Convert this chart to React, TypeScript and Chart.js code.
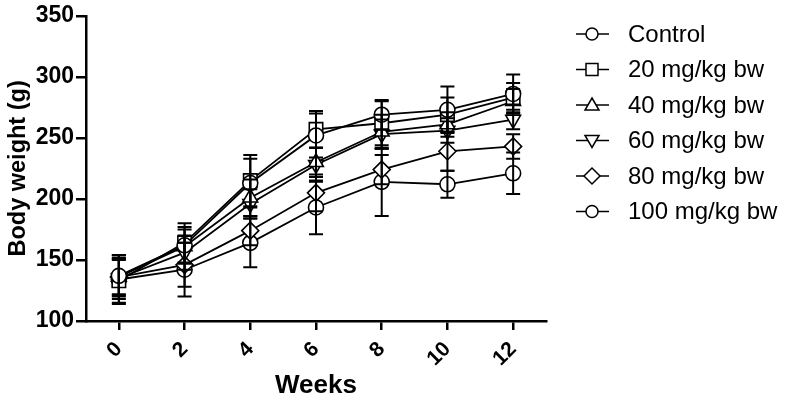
import React, { useEffect, useRef } from "react";
import { Chart, registerables } from "chart.js";

Chart.register(...registerables);

const weeks = [0, 2, 4, 6, 8, 10, 12];
const seriesNames = ["Control", "20 mg/kg bw", "40 mg/kg bw", "60 mg/kg bw", "80 mg/kg bw", "100 mg/kg bw"];

const control = [137, 162, 213, 252, 269, 273, 286];
const mg20 = [133, 164, 215, 257, 262, 269, 283];
const mg40 = [136, 161, 201, 230, 255, 261, 280];
const mg60 = [135, 156, 196, 228, 253, 256, 265];
const mg80 = [136, 146, 174, 205, 224, 239, 243];
const mg100 = [134, 142, 164, 193, 214, 212, 221];

const sdControl = [15, 15, 20, 18, 12, 19, 16];
const sdMg20 = [18, 16, 21, 15, 18, 14, 12];
const sdMg40 = [15, 14, 15, 12, 14, 10, 10];
const sdMg60 = [15, 14, 12, 14, 12, 10, 8];
const sdMg80 = [18, 18, 12, 15, 12, 16, 10];
const sdMg100 = [20, 22, 20, 22, 28, 11, 17];

const yTicks = [100, 150, 200, 250, 300, 350];

const seriesValues = [control, mg20, mg40, mg60, mg80, mg100];
const seriesSd = [sdControl, sdMg20, sdMg40, sdMg60, sdMg80, sdMg100];
const pointStyles = ["circle", "rect", "triangle", "triangle", "rectRot", "circle"];
const pointRotations = [0, 0, 0, 180, 0, 0];
const pointRadii = [7.5, 9.5, 8.5, 8.5, 8.5, 7.5];

const FONT = "'Liberation Sans', Arial, sans-serif";

const errorBarPlugin = {
  id: "errorBars",
  afterDatasetsDraw(chart: any) {
    const ctx = chart.ctx;
    const xs = chart.scales.x;
    const ys = chart.scales.y;
    ctx.save();
    ctx.strokeStyle = "#000";
    ctx.lineWidth = 2;
    seriesValues.forEach((vals, i) => {
      vals.forEach((v, j) => {
        const sd = seriesSd[i][j];
        const x = xs.getPixelForValue(weeks[j]);
        const yt = ys.getPixelForValue(v + sd);
        const yb = ys.getPixelForValue(v - sd);
        ctx.beginPath();
        ctx.moveTo(x, yt);
        ctx.lineTo(x, yb);
        ctx.moveTo(x - 7, yt);
        ctx.lineTo(x + 7, yt);
        ctx.moveTo(x - 7, yb);
        ctx.lineTo(x + 7, yb);
        ctx.stroke();
      });
    });
    ctx.restore();
  },
};

function drawMarker(ctx: CanvasRenderingContext2D, kind: number, x: number, y: number) {
  ctx.beginPath();
  const r = 6;
  if (kind === 0 || kind === 5) {
    ctx.arc(x, y, r, 0, Math.PI * 2);
  } else if (kind === 1) {
    ctx.rect(x - 6, y - 6, 12, 12);
  } else if (kind === 2) {
    ctx.moveTo(x, y - 7);
    ctx.lineTo(x + 7, y + 5);
    ctx.lineTo(x - 7, y + 5);
    ctx.closePath();
  } else if (kind === 3) {
    ctx.moveTo(x, y + 7);
    ctx.lineTo(x + 7, y - 5);
    ctx.lineTo(x - 7, y - 5);
    ctx.closePath();
  } else {
    ctx.moveTo(x, y - 8);
    ctx.lineTo(x + 8, y);
    ctx.lineTo(x, y + 8);
    ctx.lineTo(x - 8, y);
    ctx.closePath();
  }
  ctx.fillStyle = "#fff";
  ctx.fill();
  ctx.stroke();
}

const legendPlugin = {
  id: "customLegend",
  afterDraw(chart: any) {
    const ctx = chart.ctx;
    ctx.save();
    ctx.strokeStyle = "#000";
    ctx.lineWidth = 1.5;
    ctx.font = `24px ${FONT}`;
    ctx.fillStyle = "#000";
    ctx.textBaseline = "middle";
    seriesNames.forEach((name, i) => {
      const y = 34 + i * 35.5;
      ctx.beginPath();
      ctx.moveTo(576, y);
      ctx.lineTo(609, y);
      ctx.stroke();
      drawMarker(ctx, i, 592, y);
      ctx.fillStyle = "#000";
      ctx.fillText(name, 628, y + 1);
    });
    ctx.restore();
  },
};

export default function App() {
  const ref = useRef<HTMLCanvasElement | null>(null);
  useEffect(() => {
    if (!ref.current) return;
    const datasets = seriesValues.map((vals, i) => ({
      label: seriesNames[i],
      data: vals.map((v, j) => ({ x: weeks[j], y: v })),
      borderColor: "#000",
      borderWidth: 1.8,
      pointStyle: pointStyles[i] as any,
      pointRotation: pointRotations[i],
      pointRadius: pointRadii[i],
      pointBackgroundColor: "#fff",
      pointBorderColor: "#000",
      pointBorderWidth: 1.6,
      fill: false,
      tension: 0,
    }));
    const chart = new Chart(ref.current, {
      type: "line",
      data: { datasets },
      plugins: [errorBarPlugin, legendPlugin],
      options: {
        animation: false,
        responsive: false,
        layout: { padding: { top: 13, right: 240, left: 0, bottom: 0 } },
        plugins: { legend: { display: false }, tooltip: { enabled: false } },
        scales: {
          x: {
            type: "linear",
            min: -1,
            max: 13,
            afterBuildTicks: (scale: any) => {
              scale.ticks = weeks.map((v) => ({ value: v }));
            },
            afterFit: (scale: any) => {
              scale.height = 87;
            },
            grid: { display: true, drawOnChartArea: false, drawTicks: true, tickLength: 9, color: "#000", lineWidth: 2.5 },
            border: { display: true, color: "#000", width: 2.5 },
            ticks: {
              minRotation: 45,
              maxRotation: 45,
              padding: 7,
              color: "#000",
              font: { family: FONT, size: 21, weight: "bold" },
              callback: (v: any) => String(v),
            },
            title: {
              display: true,
              text: "Weeks",
              color: "#000",
              font: { family: FONT, size: 26, weight: "bold" },
              padding: { top: 0, bottom: 7 },
            },
          },
          y: {
            min: 100,
            max: 350,
            afterBuildTicks: (scale: any) => {
              scale.ticks = yTicks.map((v) => ({ value: v }));
            },
            afterFit: (scale: any) => {
              scale.width = 86;
            },
            grid: { display: true, drawOnChartArea: false, drawTicks: true, tickLength: 10, color: "#000", lineWidth: 2.5 },
            border: { display: true, color: "#000", width: 2.5 },
            ticks: {
              padding: 2,
              color: "#000",
              font: { family: FONT, size: 23, weight: "bold" },
            },
            title: {
              display: true,
              text: "Body weight (g)",
              color: "#000",
              font: { family: FONT, size: 23.5, weight: "bold" },
              padding: { top: 4, bottom: 0 },
            },
          },
        },
      },
    });
    return () => chart.destroy();
  }, []);
  return (
    <div style={{ position: "absolute", left: 0, top: 0, width: 786, height: 408, background: "#fff" }}>
      <canvas ref={ref} width={786} height={408} style={{ display: "block" }} />
    </div>
  );
}
